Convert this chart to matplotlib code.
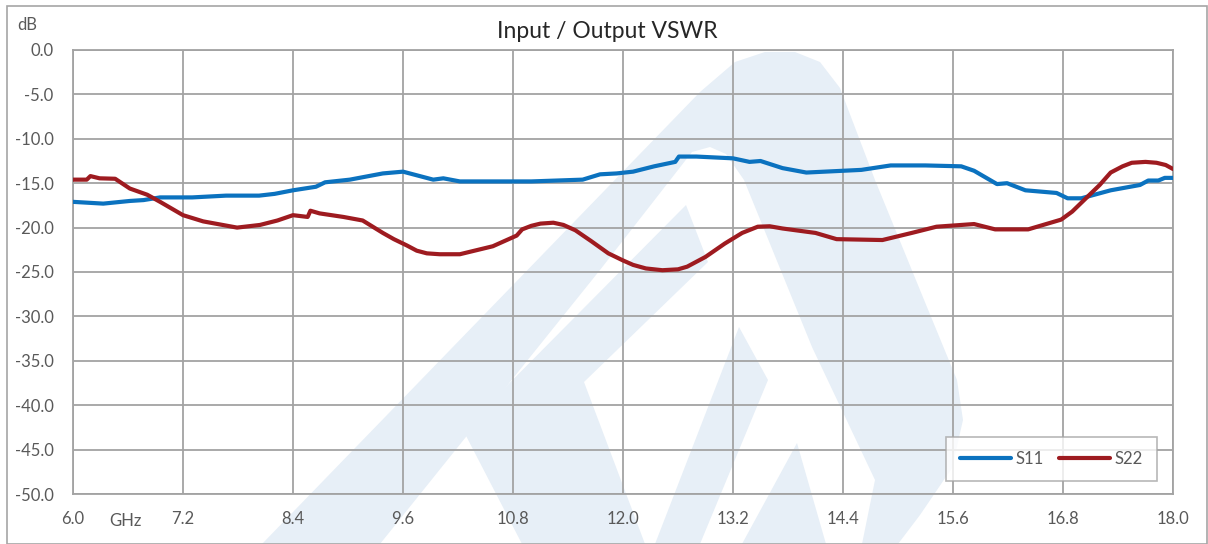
import matplotlib
matplotlib.use("Agg")
import matplotlib.pyplot as plt
from matplotlib.patches import Polygon, Rectangle

# ---- data ----
s11_ghz = [6.00, 6.33, 6.62, 6.77, 6.95, 7.30, 7.67, 8.03, 8.20, 8.40, 8.65, 8.75,
           9.02, 9.38, 9.60, 9.93, 10.04, 10.22, 11.00, 11.56, 11.75, 11.93, 12.11,
           12.34, 12.57, 12.61, 12.80, 13.20, 13.38, 13.50, 13.74, 14.00, 14.40,
           14.60, 14.92, 15.30, 15.69, 15.83, 16.08, 16.19, 16.39, 16.73, 16.85,
           17.00, 17.32, 17.64, 17.73, 17.84, 17.91, 18.00]
s11_db = [-17.1, -17.3, -17.0, -16.9, -16.6, -16.6, -16.4, -16.4, -16.2, -15.8, -15.4, -14.9,
          -14.6, -13.9, -13.7, -14.6, -14.45, -14.8, -14.8, -14.6, -14.0, -13.9, -13.7,
          -13.1, -12.6, -12.0, -12.0, -12.2, -12.6, -12.5, -13.3, -13.8, -13.6,
          -13.5, -13.0, -13.0, -13.1, -13.6, -15.1, -15.0, -15.8, -16.1, -16.7,
          -16.7, -15.8, -15.2, -14.7, -14.7, -14.4, -14.4]

s22_ghz = [6.00, 6.15, 6.19, 6.29, 6.46, 6.62, 6.81, 6.95, 7.20, 7.42, 7.79, 8.04,
           8.23, 8.40, 8.56, 8.59, 8.69, 8.95, 9.16, 9.38, 9.50, 9.64, 9.75, 9.86,
           10.00, 10.22, 10.58, 10.84, 10.90, 11.00, 11.10, 11.24, 11.35, 11.48,
           11.65, 11.84, 12.00, 12.11, 12.25, 12.43, 12.60, 12.70, 12.90, 13.11,
           13.30, 13.47, 13.60, 13.74, 14.10, 14.33, 14.83, 15.15, 15.42, 15.83,
           16.06, 16.42, 16.78, 16.90, 17.05, 17.20, 17.32, 17.45, 17.55, 17.70,
           17.82, 17.92, 18.00]
s22_db = [-14.6, -14.6, -14.2, -14.45, -14.5, -15.6, -16.3, -17.1, -18.6, -19.3, -20.0, -19.7,
          -19.2, -18.6, -18.8, -18.1, -18.4, -18.8, -19.2, -20.6, -21.3, -22.0, -22.6, -22.9,
          -23.0, -23.0, -22.1, -20.9, -20.2, -19.8, -19.55, -19.45, -19.7, -20.3,
          -21.5, -22.9, -23.7, -24.2, -24.6, -24.8, -24.7, -24.4, -23.3, -21.8,
          -20.6, -19.9, -19.85, -20.1, -20.6, -21.3, -21.4, -20.6, -19.9, -19.6,
          -20.2, -20.2, -19.1, -18.2, -16.7, -15.2, -13.8, -13.1, -12.7, -12.6,
          -12.7, -12.95, -13.4]

x_ticks = [6.0, 7.2, 8.4, 9.6, 10.8, 12.0, 13.2, 14.4, 15.6, 16.8, 18.0]
y_ticks = [0, -5, -10, -15, -20, -25, -30, -35, -40, -45, -50]

W, H = 1208, 544
TEXT = "#595959"
GRID = "#A3A3A3"
WM = "#E7EFF7"

plt.rcParams["font.family"] = ["Lato", "DejaVu Sans"]

fig = plt.figure(figsize=(W / 100, H / 100), dpi=100)


def px(points):
    return [(x / W, 1 - y / H) for x, y in points]


# faint logo watermark behind the chart
shapes = [
    [(262, 544), (700, 92), (735, 62), (765, 52), (795, 52), (820, 62), (840, 88),
     (875, 180), (920, 290), (957, 380), (963, 420), (952, 468), (920, 515), (898, 544),
     (862, 544), (875, 480), (812, 347), (744, 180), (726, 154), (710, 147), (692, 152),
     (600, 270), (380, 544)],
    [(686, 205), (708, 262), (584, 382), (645, 544), (522, 544), (463, 430)],
    [(739, 327), (768, 380), (700, 544), (655, 544)],
    [(797, 443), (826, 544), (742, 544)],
]
for pts in shapes:
    fig.add_artist(Polygon(px(pts), closed=True, transform=fig.transFigure,
                           facecolor=WM, edgecolor="none", zorder=-5))

fig.add_artist(Rectangle((7 / W, 0), 1200 / W, (H - 6) / H, transform=fig.transFigure,
                         fill=False, edgecolor="#A6A6A6", linewidth=1.2, zorder=-4))

ax = fig.add_axes([73 / W, 1 - 494 / H, 1100 / W, 444 / H])
ax.set_facecolor("none")

ax.plot(s11_ghz, s11_db, color="#0B72BF", linewidth=3.0, label="S11",
        solid_joinstyle="round", solid_capstyle="round", zorder=3)
ax.plot(s22_ghz, s22_db, color="#9E1B20", linewidth=3.0, label="S22",
        solid_joinstyle="round", solid_capstyle="round", zorder=3)

ax.set_xlim(6, 18)
ax.set_ylim(-50, 0)
ax.set_xticks(x_ticks)
ax.set_xticklabels([f"{v:.1f}" for v in x_ticks])
ax.set_yticks(y_ticks)
ax.set_yticklabels([f"{v:.1f}" for v in y_ticks])
ax.tick_params(length=0, labelsize=12, labelcolor=TEXT)
ax.tick_params(axis="y", pad=14)
ax.tick_params(axis="x", pad=12)
ax.grid(True, color=GRID, linewidth=1.3)
for s in ax.spines.values():
    s.set_color(GRID)
    s.set_linewidth(1.3)

ax.text(0.0477, -0.061, "GHz", transform=ax.transAxes, ha="center", va="center",
        fontsize=12, color=TEXT)
fig.text(27 / W, 1 - 25 / H, "dB", ha="center", va="center", fontsize=12, color=TEXT)
fig.text(607 / W, 1 - 31 / H, "Input / Output VSWR", ha="center", va="center",
         fontsize=16.5, color="#262626")

leg = ax.legend(loc="lower right", bbox_to_anchor=(0.9855, 0.0293), borderaxespad=0,
                ncol=2, handlelength=3.1, handletextpad=0.25, columnspacing=0.9,
                fancybox=False, fontsize=12, borderpad=0.85, labelcolor=TEXT)
leg.get_frame().set_edgecolor("#A6A6A6")
leg.get_frame().set_linewidth(1.2)

fig.savefig("out.png", dpi=100)
